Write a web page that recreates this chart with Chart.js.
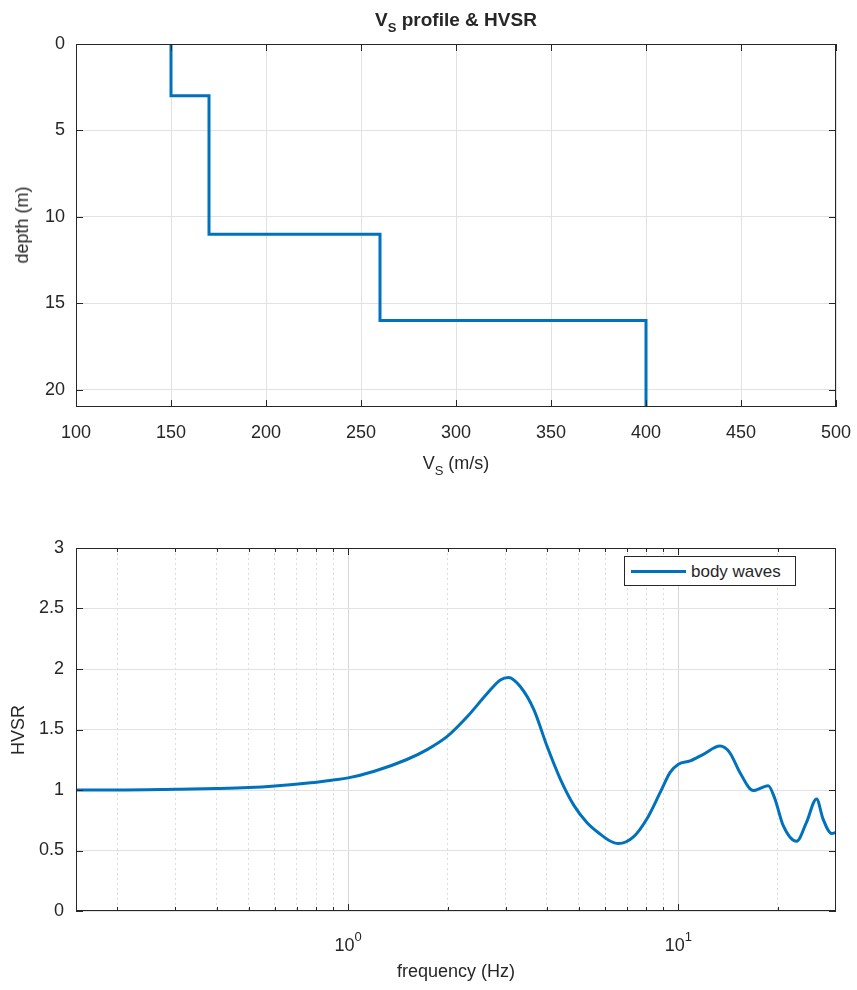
<!DOCTYPE html>
<html>
<head>
<meta charset="utf-8">
<script src="https://cdn.jsdelivr.net/npm/chart.js@4"></script>
<style>
  body { margin: 0; background: #fff; }
  #fig { position: relative; width: 857px; height: 990px; background: #fff; font-family: "Liberation Sans", Arial, sans-serif; color: #262626; }
  canvas { position: absolute; left: 0; }
  .lbl { position: absolute; white-space: nowrap; font-size: 18px; line-height: 1; }
  .lbl sub { font-size: 13px; vertical-align: -6px; line-height: 0; }
  .rot { transform: translate(-50%, -50%) rotate(-90deg); }
  .cx { transform: translate(-50%, -50%); }
  #legend { position: absolute; left: 624px; top: 556px; width: 172px; height: 30px; border: 1px solid #262626; background: #fff; box-sizing: border-box; }
  #legend .ln { position: absolute; left: 6px; top: 13px; width: 55px; height: 3px; background: #0072BD; }
  #legend .tx { position: absolute; left: 66px; top: 6px; font-size: 17px; line-height: 1; }
</style>
</head>
<body>
<div id="fig">
  <canvas id="vs-chart" style="top:0" width="857" height="470"></canvas>
  <canvas id="hvsr-chart" style="top:500px" width="857" height="490"></canvas>

  <div class="lbl cx" style="left:456px; top:19px; font-weight:bold; font-size:19px;">V<sub>S</sub> profile &amp; HVSR</div>
  <div class="lbl cx" style="left:456px; top:463px;">V<sub>S</sub> (m/s)</div>
  <div class="lbl rot" style="left:22px; top:225px;">depth (m)</div>
  <div class="lbl rot" style="left:18px; top:730px;">HVSR</div>
  <div class="lbl cx" style="left:456px; top:971px;">frequency (Hz)</div>

  <div id="legend"><div class="ln"></div><div class="tx">body waves</div></div>
</div>

<script>
// Vs profile layers (m/s, depth in m)
const layerVs = [150, 170, 260, 400];
const layerTop = [0, 3, 11, 16];
const layerBottom = [3, 11, 16, 21];

// HVSR curve
const freq = [0.15, 0.2, 0.3, 0.4, 0.5, 0.6, 0.77, 0.9, 1.0, 1.2, 1.5, 1.74, 2.0, 2.3, 2.64, 2.89, 3.06, 3.32, 3.65, 4.0, 4.39, 4.82, 5.29, 5.8, 6.15, 6.59, 7.31, 8.03, 8.81, 9.44, 10.0, 10.85, 11.9, 13.36, 14.3, 15.35, 16.85, 18.7, 19.6, 20.75, 22.8, 24.4, 26.2, 27.4, 29.1, 30];
const hvsr = [1.0, 1.0, 1.006, 1.012, 1.02, 1.033, 1.06, 1.083, 1.10, 1.155, 1.25, 1.336, 1.445, 1.609, 1.80, 1.91, 1.93, 1.855, 1.664, 1.363, 1.09, 0.875, 0.73, 0.635, 0.585, 0.557, 0.612, 0.762, 0.98, 1.145, 1.213, 1.24, 1.295, 1.363, 1.309, 1.145, 0.995, 1.035, 0.926, 0.707, 0.576, 0.73, 0.926, 0.762, 0.64, 0.65];

// tick positions
const vsTicks = [100, 150, 200, 250, 300, 350, 400, 450, 500];
const depthTicks = [0, 5, 10, 15, 20];
const hvsrTicks = [0, 0.5, 1, 1.5, 2, 2.5, 3];
const freqTicks = [0.2, 0.3, 0.4, 0.5, 0.6, 0.7, 0.8, 0.9, 1, 2, 3, 4, 5, 6, 7, 8, 9, 10, 20];
const freqDecades = [1, 10];

const AX = '#262626';
const GRID = '#e2e2e2';
const BLUE = '#0072BD';
const FAMILY = '"Liberation Sans", Arial, sans-serif';
const FONT = { family: FAMILY, size: 18 };

// step line from the layers
const profile = [];
layerVs.forEach((v, i) => {
    profile.push({ x: v, y: layerTop[i] });
    profile.push({ x: v, y: layerBottom[i] });
});
const curve = freq.map((f, i) => ({ x: f, y: hvsr[i] }));
const isDecade = v => freqDecades.includes(v);

// MATLAB-like box with inward ticks
const boxPlugin = {
    id: 'box',
    afterDraw(chart) {
        const { ctx, chartArea: a } = chart;
        const sx = chart.scales.x, sy = chart.scales.y;
        ctx.save();
        ctx.strokeStyle = AX;
        ctx.lineWidth = 1;
        ctx.beginPath();
        sx.ticks.forEach((t, i) => {
            const px = Math.round(sx.getPixelForTick(i)) + 0.5;
            const len = (sx.type === 'logarithmic' && !isDecade(t.value)) ? 4 : 7;
            ctx.moveTo(px, a.bottom); ctx.lineTo(px, a.bottom - len);
            ctx.moveTo(px, a.top); ctx.lineTo(px, a.top + len);
        });
        sy.ticks.forEach((t, i) => {
            const py = Math.round(sy.getPixelForTick(i)) + 0.5;
            ctx.moveTo(a.left, py); ctx.lineTo(a.left + 7, py);
            ctx.moveTo(a.right, py); ctx.lineTo(a.right - 7, py);
        });
        ctx.stroke();
        ctx.strokeRect(Math.round(a.left) + 0.5, Math.round(a.top) + 0.5, Math.round(a.width) - 1, Math.round(a.height) - 1);
        ctx.restore();
    }
};

// 10^n labels with a real superscript on the log axis
const decadeLabels = {
    id: 'decadeLabels',
    afterDraw(chart) {
        const { ctx, chartArea: a } = chart;
        const sx = chart.scales.x;
        ctx.save();
        ctx.fillStyle = AX;
        ctx.textAlign = 'left';
        ctx.textBaseline = 'alphabetic';
        freqDecades.forEach(v => {
            const px = sx.getPixelForValue(v);
            const exp = String(Math.round(Math.log10(v)));
            ctx.font = '18px ' + FAMILY;
            const w1 = ctx.measureText('10').width;
            ctx.font = '13px ' + FAMILY;
            const w2 = ctx.measureText(exp).width;
            const x0 = px - (w1 + w2) / 2;
            ctx.font = '18px ' + FAMILY;
            ctx.fillText('10', x0, a.bottom + 40);
            ctx.font = '13px ' + FAMILY;
            ctx.fillText(exp, x0 + w1, a.bottom + 30);
        });
        ctx.restore();
    }
};

const noSidePad = s => { s.paddingLeft = 0; s.paddingRight = 0; };

window.addEventListener('DOMContentLoaded', function() {
    // Top: Vs profile
    new Chart(document.getElementById('vs-chart'), {
        type: 'line',
        data: {
            datasets: [{
                data: profile,
                borderColor: BLUE,
                borderWidth: 3,
                pointRadius: 0,
                borderJoinStyle: 'miter',
                tension: 0
            }]
        },
        options: {
            responsive: false,
            animation: false,
            layout: { padding: { top: 44, right: 21, left: 0, bottom: 0 } },
            plugins: { legend: { display: false }, tooltip: { enabled: false } },
            scales: {
                x: {
                    type: 'linear', min: 100, max: 500,
                    afterBuildTicks: s => { s.ticks = vsTicks.map(v => ({ value: v })); },
                    afterFit: s => { s.height = 63; noSidePad(s); },
                    grid: { color: GRID, drawTicks: false },
                    border: { display: false },
                    ticks: { color: AX, font: FONT, padding: 15, maxRotation: 0 }
                },
                y: {
                    type: 'linear', min: 0, max: 21, reverse: true,
                    afterBuildTicks: s => { s.ticks = depthTicks.map(v => ({ value: v })); },
                    afterFit: s => { s.width = 76; },
                    grid: { color: GRID, drawTicks: false },
                    border: { display: false },
                    ticks: { color: AX, font: FONT, padding: 11 }
                }
            }
        },
        plugins: [boxPlugin]
    });

    // Bottom: HVSR
    new Chart(document.getElementById('hvsr-chart'), {
        type: 'line',
        data: {
            datasets: [{
                label: 'body waves',
                data: curve,
                borderColor: BLUE,
                borderWidth: 3,
                pointRadius: 0,
                cubicInterpolationMode: 'monotone'
            }]
        },
        options: {
            responsive: false,
            animation: false,
            layout: { padding: { top: 48, right: 21, left: 0, bottom: 0 } },
            plugins: { legend: { display: false }, tooltip: { enabled: false } },
            scales: {
                x: {
                    type: 'logarithmic', min: 0.15, max: 30,
                    afterBuildTicks: s => { s.ticks = freqTicks.map(v => ({ value: v })); },
                    afterFit: s => { s.height = 79; noSidePad(s); },
                    grid: {
                        color: c => isDecade(c.tick && c.tick.value) ? '#d6d6d6' : '#dcdcdc',
                        drawTicks: false
                    },
                    border: {
                        display: false,
                        dash: c => isDecade(c.tick && c.tick.value) ? [] : [2, 3]
                    },
                    ticks: { display: false, autoSkip: false }
                },
                y: {
                    type: 'linear', min: 0, max: 3,
                    afterBuildTicks: s => { s.ticks = hvsrTicks.map(v => ({ value: v })); },
                    afterFit: s => { s.width = 76; },
                    grid: { color: GRID, drawTicks: false },
                    border: { display: false },
                    ticks: { color: AX, font: FONT, padding: 12, callback: v => String(v) }
                }
            }
        },
        plugins: [boxPlugin, decadeLabels]
    });
});
</script>
</body>
</html>
